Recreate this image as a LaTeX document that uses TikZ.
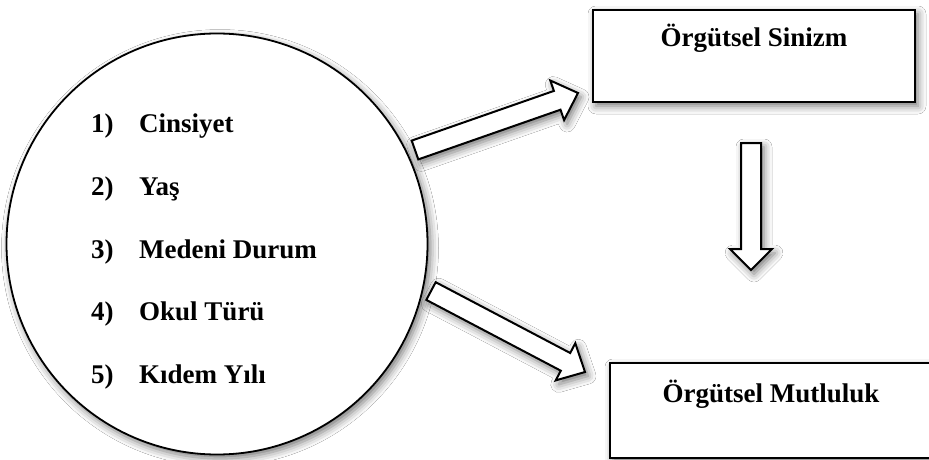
\documentclass[tikz,border=0pt]{standalone}
\usepackage{fontspec}
\setmainfont{Liberation Serif}
\usetikzlibrary{shadows.blur}
\tikzset{
  shad/.style={blur shadow={shadow xshift=3pt, shadow yshift=-4pt, shadow blur radius=8pt, shadow opacity=55}},
  bigcircle/.style={circle, draw, line width=1.8pt, fill=white, minimum size=421pt, inner sep=0pt, shad},
  box/.style={draw, line width=2.8pt, fill=white, shad},
  blockarr/.style={draw, line width=2pt, fill=white, line join=miter, shad},
  txt/.style={font=\bfseries\fontsize{27}{32}\selectfont, inner sep=0pt, anchor=base west},
  boxtxt/.style={font=\bfseries\fontsize{27}{32}\selectfont, inner sep=0pt, anchor=base}
}
\begin{document}
\begin{tikzpicture}[x=1pt,y=-1pt]
\clip (0,0) rectangle (929,460);
\fill[white] (0,0) rectangle (929,460);
% circle
\node[bigcircle] (c) at (217,244) {};
% list
\node[txt] (n1) at (91,132) {1)};
\node[txt] (t1) at (139,132) {Cinsiyet};
\node[txt] (n2) at (91,195) {2)};
\node[txt] (t2) at (139,195) {Yaş};
\node[txt] (n3) at (91,258) {3)};
\node[txt] (t3) at (139,258) {Medeni Durum};
\node[txt] (n4) at (91,320) {4)};
\node[txt] (t4) at (139,320) {Okul Türü};
\node[txt] (n5) at (91,383) {5)};
\node[txt] (t5) at (139,383) {Kıdem Yılı};
% block arrows
\draw[blockarr] (411.7,140.6) -- (553.9,90.9) -- (550.3,80.5) -- (578,93) -- (564.1,120.1) -- (560.5,109.7) -- (418.3,159.4) -- cycle;
\draw[blockarr] (435.7,282.2) -- (570.2,353.0) -- (575.3,343.2) -- (585,372) -- (555.7,380.4) -- (560.8,370.7) -- (426.3,299.9) -- cycle;
\draw[blockarr] (741,143) -- (761,143) -- (761,249) -- (772,249) -- (751,270) -- (730,249) -- (741,249) -- cycle;
% boxes
\draw[box] (593,10) rectangle (915,102);
\node[boxtxt] (s) at (754,47) {Örgütsel Sinizm};
\draw[box] (610,363) rectangle (940,458);
\node[boxtxt] (m) at (771,402) {Örgütsel Mutluluk};
\end{tikzpicture}
\end{document}
